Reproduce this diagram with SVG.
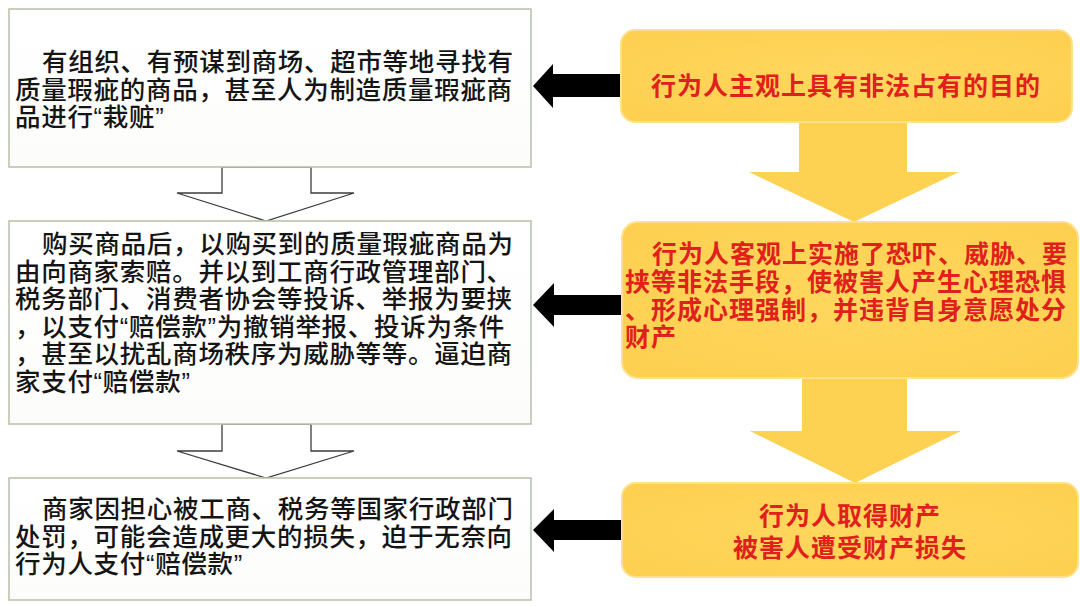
<svg xmlns="http://www.w3.org/2000/svg" width="1080" height="606" viewBox="0 0 1080 606">
<defs>
<linearGradient id="lg" x1="0" y1="0" x2="0" y2="1">
<stop offset="0" stop-color="#ffffff"/>
<stop offset="1" stop-color="#fcfdfb"/>
</linearGradient>
<radialGradient id="yg" cx="0.5" cy="0.5" r="0.7">
<stop offset="0" stop-color="#ffd75e"/>
<stop offset="1" stop-color="#fdcf4f"/>
</radialGradient>
</defs>
<style>
.lbox{fill:url(#lg);stroke:#bcc4ad;stroke-width:1.6}
.ybox{fill:url(#yg);stroke:#ffe08c;stroke-width:2}
.hollow{fill:#ffffff;stroke:#3c3c3c;stroke-width:1.3;stroke-linejoin:miter}
.yarrow{fill:#fdd152}
.barrow{fill:#000000}
.bt{font-family:"Liberation Sans","Noto Sans CJK SC",sans-serif;font-size:25.5px;fill:#151515;font-weight:500;letter-spacing:0.7px}
.rt{font-family:"Liberation Sans","Noto Sans CJK SC",sans-serif;font-size:25px;fill:#e0201c;font-weight:bold;letter-spacing:1px}
</style>
<rect width="1080" height="606" fill="#ffffff"/>
<g id="connectors">
<path class="hollow" d="M222,167 L311,167 L311,193 L354,193 L266,221 L177,193 L222,193 Z"/>
<path class="hollow" d="M222,424 L311,424 L311,451 L354,451 L266,478 L177,451 L222,451 Z"/>
<path class="yarrow" d="M799,118 L907,118 L907,172 L959,172 L854,222 L749,172 L799,172 Z"/>
<path class="yarrow" d="M802,372 L907,372 L907,431 L961,431 L855,483 L750,431 L802,431 Z"/>
<path class="barrow" d="M533,86 L553,64 L553,74 L625,74 L625,97 L553,97 L553,108 Z"/>
<path class="barrow" d="M533,305 L554,283 L554,295 L625,295 L625,315 L554,315 L554,327 Z"/>
<path class="barrow" d="M533,530 L554,509 L554,520 L625,520 L625,540 L554,540 L554,552 Z"/>
</g>
<g id="node-l1">
<rect class="lbox" x="9" y="9" width="522" height="158"/>
<text class="bt"><tspan x="42" y="71">有组织、有预谋到商场、超市等地寻找有</tspan><tspan x="15" y="98.5">质量瑕疵的商品，甚至人为制造质量瑕疵商</tspan><tspan x="15" y="126">品进行“栽赃”</tspan></text>
</g>
<g id="node-l2">
<rect class="lbox" x="9" y="221" width="522" height="203"/>
<text class="bt"><tspan x="42" y="253">购买商品后，以购买到的质量瑕疵商品为</tspan><tspan x="15" y="280.5">由向商家索赔。并以到工商行政管理部门、</tspan><tspan x="15" y="308">税务部门、消费者协会等投诉、举报为要挟</tspan><tspan x="15" y="335.5">，以支付“赔偿款”为撤销举报、投诉为条件</tspan><tspan x="15" y="363">，甚至以扰乱商场秩序为威胁等等。逼迫商</tspan><tspan x="15" y="390.5">家支付“赔偿款”</tspan></text>
</g>
<g id="node-l3">
<rect class="lbox" x="9" y="478" width="522" height="122"/>
<text class="bt"><tspan x="42" y="518">商家因担心被工商、税务等国家行政部门</tspan><tspan x="15" y="545.5">处罚，可能会造成更大的损失，迫于无奈向</tspan><tspan x="15" y="573">行为人支付“赔偿款”</tspan></text>
</g>
<g id="node-r1">
<rect class="ybox" x="621" y="30" width="451" height="92" rx="14"/>
<text class="rt" x="846" y="95" text-anchor="middle">行为人主观上具有非法占有的目的</text>
</g>
<g id="node-r2">
<rect class="ybox" x="622" y="222" width="456" height="156" rx="16"/>
<text class="rt" letter-spacing="1.5"><tspan x="652" y="263">行为人客观上实施了恐吓、威胁、要</tspan><tspan x="625" y="291">挟等非法手段，使被害人产生心理恐惧</tspan><tspan x="625" y="319">、形成心理强制，并违背自身意愿处分</tspan><tspan x="625" y="346">财产</tspan></text>
</g>
<g id="node-r3">
<rect class="ybox" x="622" y="483" width="456" height="94" rx="14"/>
<text class="rt" text-anchor="middle"><tspan x="850" y="525">行为人取得财产</tspan><tspan x="850" y="557">被害人遭受财产损失</tspan></text>
</g>
</svg>
